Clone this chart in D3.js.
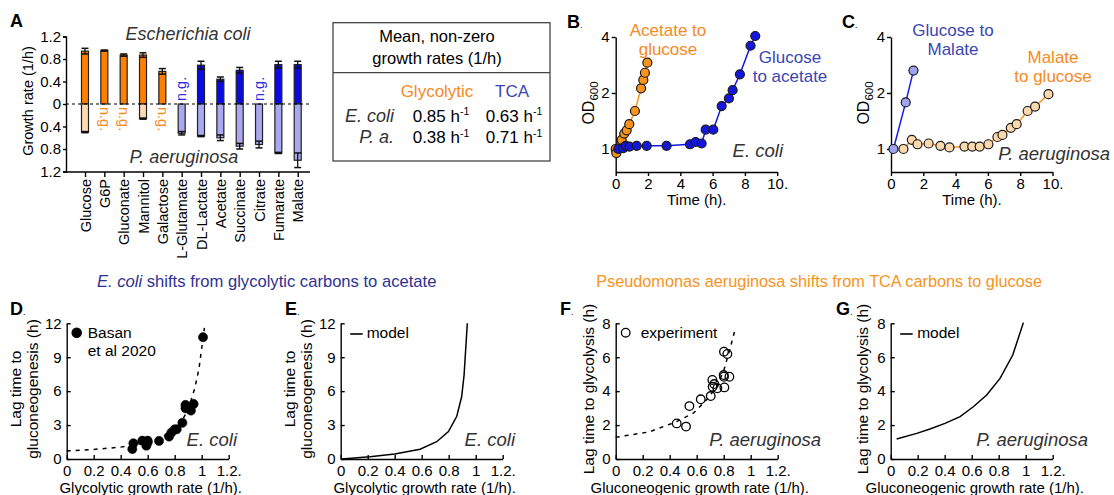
<!doctype html>
<html lang="en">
<head>
<meta charset="UTF-8">
<title>Growth rates and lag times</title>
<script src="https://cdn.jsdelivr.net/npm/d3@7"></script>
<style>
body { margin: 0; background: #fff; }
svg { font-family: "Liberation Sans", Arial, Helvetica, sans-serif; }
.axis path, .axis line { stroke: #000; stroke-width: 1.4; }
.axis text { font-size: 15px; fill: #000; font-family: "Liberation Sans", Arial, sans-serif; }
.species { font-style: italic; fill: #333; }
</style>
</head>
<body>
<script>
var width = 1114, height = 495;

// ---------- A: growth rates (E. coli up, P. aeruginosa down)
var carbons = ["Glucose", "G6P", "Gluconate", "Mannitol", "Galactose", "L-Glutamate",
               "DL-Lactate", "Acetate", "Succinate", "Citrate", "Fumarate", "Malate"];
var carbonType = ["gly", "gly", "gly", "gly", "gly", "tca", "tca", "tca", "tca", "tca", "tca", "tca"];
var ecoliRate = [0.94, 0.95, 0.87, 0.87, 0.58, null, 0.69, 0.44, 0.60, null, 0.70, 0.70];
var ecoliErr  = [0.05, 0.01, 0.02, 0.04, 0.05, null, 0.07, 0.04, 0.05, null, 0.06, 0.06];
var paRate    = [0.50, null, null, 0.26, null, 0.52, 0.57, 0.60, 0.75, 0.72, 0.87, 1.00];
var paErr     = [0.01, null, null, 0.01, null, 0.03, 0.01, 0.05, 0.05, 0.06, 0.01, 0.13];
var rateTicks = [-1.2, -0.8, -0.4, 0, 0.4, 0.8, 1.2];

// ---------- table of mean rates
var tableStrains = ["E. coli", "P. a."];
var meanGlycolytic = [0.85, 0.38];
var meanTCA = [0.63, 0.71];

// ---------- B: E. coli shifts (time h, OD600)
var ecAcGlcTime = [0.0, 0.04, 0.27, 0.37, 0.53, 0.68, 0.84, 1.19, 1.57, 1.71, 1.81, 1.96];
var ecAcGlcOD   = [1.0, 0.95, 1.03, 1.12, 1.21, 1.26, 1.36, 1.60, 2.12, 2.35, 2.57, 2.91];
var ecGlcAcTime = [0.16, 0.47, 0.62, 0.85, 1.30, 1.92, 3.15, 4.60, 4.95, 5.32, 5.57, 6.04, 6.56, 7.01, 7.24, 7.69, 8.35, 8.64];
var ecGlcAcOD   = [1.00, 1.01, 1.04, 1.03, 1.04, 1.04, 1.04, 1.06, 1.09, 1.07, 1.27, 1.27, 1.70, 1.87, 2.07, 2.52, 3.59, 4.05];

// ---------- C: P. aeruginosa shifts
var paGlcMalTime = [0.15, 0.91, 1.39];
var paGlcMalOD   = [1.0, 1.78, 2.64];
var paMalGlcTime = [0.77, 1.29, 1.64, 2.33, 3.06, 3.62, 4.55, 5.03, 5.49, 6.03, 6.59, 6.90, 7.42, 7.78, 8.46, 8.92, 9.75];
var paMalGlcOD   = [1.00, 1.12, 1.06, 1.07, 1.04, 1.02, 1.03, 1.03, 1.03, 1.06, 1.16, 1.19, 1.30, 1.36, 1.60, 1.69, 1.97];
var odTicks = [1, 2, 4];
var timeTicks = [0, 2, 4, 6, 8, 10];

// ---------- D: Basan et al 2020 data and fit
var basanRate = [1.01, 0.88, 0.94, 0.88, 0.92, 0.857, 0.815, 0.80, 0.775, 0.758, 0.684, 0.60, 0.59, 0.56, 0.494, 0.486, 0.60];
var basanLag  = [10.77, 4.78, 4.87, 4.48, 4.28, 3.2, 2.62, 2.62, 2.33, 1.98, 1.6, 1.47, 1.18, 1.62, 1.39, 0.88, 1.62];
var ecFitRate = [0, 0.2, 0.4, 0.5, 0.6, 0.7, 0.8, 0.85, 0.9, 0.95, 0.98, 1.0, 1.02];
var ecFitLag  = [0.7, 0.85, 1.05, 1.25, 1.5, 1.9, 2.6, 3.3, 4.4, 6.3, 8.0, 9.8, 11.6];

// ---------- E: E. coli model
var ecModelRate = [0.007, 0.217, 0.40, 0.588, 0.711, 0.798, 0.859, 0.896, 0.914, 0.938];
var ecModelLag  = [0, 0.2, 0.44, 0.86, 1.53, 2.42, 3.75, 5.5, 7.43, 12.0];

// ---------- F: P. aeruginosa experiment and fit
var paExpRate = [0.452, 0.521, 0.546, 0.63, 0.704, 0.716, 0.718, 0.73, 0.753, 0.80, 0.802, 0.805, 0.842, 0.802, 0.827];
var paExpLag  = [2.10, 1.91, 3.12, 3.52, 3.71, 4.66, 4.26, 4.42, 4.17, 4.95, 4.85, 4.22, 4.85, 6.33, 6.19];
var paFitRate = [0, 0.25, 0.45, 0.575, 0.675, 0.75, 0.8, 0.85, 0.885];
var paFitLag  = [1.28, 1.6, 2.2, 2.7, 3.5, 4.3, 5.2, 6.6, 7.65];

// ---------- G: P. aeruginosa model
var paModelRate = [0.044, 0.193, 0.291, 0.402, 0.514, 0.612, 0.711, 0.81, 0.904, 0.983];
var paModelLag  = [1.18, 1.51, 1.77, 2.10, 2.50, 3.08, 3.77, 4.75, 6.13, 8.04];

var rateAxisTicks = [0, 0.2, 0.4, 0.6, 0.8, 1, 1.2];
var ecLagTicks = [0, 3, 6, 9, 12];
var paLagTicks = [0, 2, 4, 6, 8];

// colours
var cOrange = "#ff7f00", cPeach = "#fddab2", cBlue = "#0a0ae6", cLav = "#a9a9f2";
var cOrangeText = "#f58a1f", cBlueText = "#3b45b3", cNavy = "#2e3192";

var svg = d3.select("body").append("svg").attr("width", width).attr("height", height);

function panelLabel(x, y, letter) {
    var t = svg.append("text").attr("x", x).attr("y", y).attr("font-size", 18).attr("font-weight", "bold").text(letter);
    t.append("tspan").attr("font-size", 9).attr("font-weight", "normal").text(".");
}

function yTitle(cx, cy, str, size) {
    svg.append("text").attr("transform", "translate(" + cx + "," + cy + ") rotate(-90)")
        .attr("text-anchor", "middle").attr("font-size", size || 15).text(str);
}

// ================= Panel A
var xA = d3.scalePoint().domain(carbons).range([85, 297.7]);
var yA = d3.scaleLinear().domain([-1.2, 1.2]).range([171.5, 36.5]);
var barW = 7;
var gA = svg.append("g");

function rateFill(i, up) {
    if (carbonType[i] === "gly") return up ? cOrange : cPeach;
    return up ? cBlue : cLav;
}

carbons.forEach(function (c, i) {
    var cx = xA(c);
    if (ecoliRate[i] !== null) {
        gA.append("rect").attr("x", cx - barW / 2).attr("y", yA(ecoliRate[i]))
            .attr("width", barW).attr("height", yA(0) - yA(ecoliRate[i]))
            .attr("fill", rateFill(i, true)).attr("stroke", "#222").attr("stroke-width", 1.2);
        var lo = yA(ecoliRate[i] - ecoliErr[i]), hi = yA(ecoliRate[i] + ecoliErr[i]);
        gA.append("line").attr("x1", cx).attr("x2", cx).attr("y1", lo).attr("y2", hi).attr("stroke", "#111").attr("stroke-width", 1.3);
        [lo, hi].forEach(function (yy) {
            gA.append("line").attr("x1", cx - 3.5).attr("x2", cx + 3.5).attr("y1", yy).attr("y2", yy).attr("stroke", "#111").attr("stroke-width", 1.5);
        });
    } else {
        gA.append("text").attr("transform", "translate(" + (cx + 4.8) + "," + (yA(0) - 3) + ") rotate(-90)")
            .attr("font-size", 14.5).attr("fill", "#2b2be0").text("n.g.");
    }
    if (paRate[i] !== null) {
        gA.append("rect").attr("x", cx - barW / 2).attr("y", yA(0))
            .attr("width", barW).attr("height", yA(-paRate[i]) - yA(0))
            .attr("fill", rateFill(i, false)).attr("stroke", "#222").attr("stroke-width", 1.2);
        var lo2 = yA(-paRate[i] + paErr[i]), hi2 = yA(-paRate[i] - paErr[i]);
        gA.append("line").attr("x1", cx).attr("x2", cx).attr("y1", lo2).attr("y2", hi2).attr("stroke", "#111").attr("stroke-width", 1.3);
        [lo2, hi2].forEach(function (yy) {
            gA.append("line").attr("x1", cx - 3.5).attr("x2", cx + 3.5).attr("y1", yy).attr("y2", yy).attr("stroke", "#111").attr("stroke-width", 1.5);
        });
    } else {
        gA.append("text").attr("transform", "translate(" + (cx - 4.8) + "," + (yA(0) + 3) + ") rotate(90)")
            .attr("font-size", 14.5).attr("fill", cOrangeText).text("n.g.");
    }
});

// zero line
gA.append("line").attr("x1", 66).attr("x2", 310).attr("y1", yA(0)).attr("y2", yA(0))
    .attr("stroke", "#000").attr("stroke-width", 1.2).attr("stroke-dasharray", "3,3");

gA.append("g").attr("class", "axis").attr("transform", "translate(66,0)")
    .call(d3.axisLeft(yA).tickValues(rateTicks).tickSize(3).tickPadding(2)
        .tickFormat(function (d) { return d === 0 ? "0" : d3.format(".1f")(Math.abs(d)); }));

var axA = gA.append("g").attr("class", "axis").attr("transform", "translate(0,172)")
    .call(d3.axisBottom(xA).tickSize(5).tickSizeOuter(0));
axA.select(".domain").remove();
axA.selectAll("text").attr("transform", "rotate(-90)").attr("text-anchor", "end")
    .attr("x", -7).attr("y", 0).attr("dy", "0.36em").style("font-size", "14.5px");
gA.append("line").attr("x1", 66).attr("x2", 310).attr("y1", 172).attr("y2", 172).attr("stroke", "#000").attr("stroke-width", 1.6);

yTitle(33, 101, "Growth rate (1/h)", 14.5);
svg.append("text").attr("class", "species").attr("x", 188).attr("y", 40).attr("text-anchor", "middle").attr("font-size", 18).text("Escherichia coli");
svg.append("text").attr("class", "species").attr("x", 184).attr("y", 163).attr("text-anchor", "middle").attr("font-size", 18).text("P. aeruginosa");
svg.append("text").attr("x", 10).attr("y", 27).attr("font-size", 18).attr("font-weight", "bold").text("A");

// ================= Table
var gT = svg.append("g");
gT.append("rect").attr("x", 333).attr("y", 22.7).attr("width", 217).attr("height", 138.3)
    .attr("fill", "none").attr("stroke", "#444").attr("stroke-width", 1.3);
gT.append("line").attr("x1", 333).attr("x2", 550).attr("y1", 72.7).attr("y2", 72.7).attr("stroke", "#444").attr("stroke-width", 1.3);
gT.append("text").attr("x", 437).attr("y", 42).attr("text-anchor", "middle").attr("font-size", 16.5).text("Mean, non-zero");
gT.append("text").attr("x", 437).attr("y", 63.5).attr("text-anchor", "middle").attr("font-size", 16.5).text("growth rates (1/h)");
gT.append("text").attr("x", 437).attr("y", 96.5).attr("text-anchor", "middle").attr("font-size", 17).attr("fill", cOrangeText).text("Glycolytic");
gT.append("text").attr("x", 512).attr("y", 96.5).attr("text-anchor", "middle").attr("font-size", 17).attr("fill", cBlueText).text("TCA");
tableStrains.forEach(function (s, i) {
    var yy = 121.5 + i * 21.7;
    gT.append("text").attr("class", "species").attr("x", 394).attr("y", yy).attr("text-anchor", "end").attr("font-size", 18).text(s);
    [[412.7, meanGlycolytic[i]], [485.7, meanTCA[i]]].forEach(function (p) {
        var t = gT.append("text").attr("x", p[0]).attr("y", yy).attr("font-size", 17).text(d3.format(".2f")(p[1]) + " h");
        t.append("tspan").attr("font-size", 10.5).attr("dy", -6.5).text("-1");
    });
});

// ================= Panels B and C
function growthPanel(o) {
    var x = d3.scaleLinear().domain([0, 10]).range([o.x0, o.x0 + 161.5]);
    var y = d3.scaleLog().base(2).domain([0.752, 4]).range([172, 37]);
    var g = svg.append("g");
    g.append("g").attr("class", "axis").attr("transform", "translate(0,172)")
        .call(d3.axisBottom(x).tickValues(timeTicks).tickSize(4).tickSizeOuter(0).tickPadding(2)
            .tickFormat(function (d) { return d === 10 ? "10." : d; }));
    g.append("g").attr("class", "axis").attr("transform", "translate(" + o.x0 + ",0)")
        .call(d3.axisLeft(y).tickValues(odTicks).tickSize(4).tickSizeOuter(0).tickPadding(2).tickFormat(d3.format("d")));
    var line = d3.line().x(function (d) { return x(d[0]); }).y(function (d) { return y(d[1]); });
    o.series.forEach(function (s) {
        var pts = d3.zip(s.t, s.od);
        g.append("path").datum(pts).attr("d", line).attr("fill", "none").attr("stroke", s.line).attr("stroke-width", 1.5);
        g.selectAll(null).data(pts).enter().append("circle")
            .attr("cx", function (d) { return x(d[0]); }).attr("cy", function (d) { return y(d[1]); })
            .attr("r", 4.5).attr("fill", s.fill).attr("stroke", "#1a1a1a").attr("stroke-width", 1.2);
    });
    var t = svg.append("text").attr("transform", "translate(" + (o.x0 - 22) + ",103) rotate(-90)")
        .attr("text-anchor", "middle").attr("font-size", 16).text("OD");
    t.append("tspan").attr("font-size", 11.5).attr("dy", 4).text("600");
    svg.append("text").attr("x", o.x0 + 81).attr("y", 205).attr("text-anchor", "middle").attr("font-size", 15).text("Time (h).");
    o.labels.forEach(function (l) {
        l.lines.forEach(function (str, k) {
            svg.append("text").attr("x", l.x).attr("y", l.y + k * 19).attr("text-anchor", "middle")
                .attr("font-size", 17).attr("fill", l.color).text(str);
        });
    });
    svg.append("text").attr("class", "species").attr("x", o.specX).attr("y", o.specY).attr("text-anchor", "end")
        .attr("font-size", 18.5).text(o.species);
    panelLabel(o.labX, 28, o.letter);
}

growthPanel({
    x0: 615.7, letter: "B", labX: 567, species: "E. coli", specX: 783, specY: 157,
    series: [
        { t: ecAcGlcTime, od: ecAcGlcOD, line: "#f7931e", fill: "#f7931e" },
        { t: ecGlcAcTime, od: ecGlcAcOD, line: "#1515e0", fill: "#1515e0" }
    ],
    labels: [
        { x: 668, y: 36, color: cOrangeText, lines: ["Acetate to", "glucose"] },
        { x: 790, y: 63, color: cBlueText, lines: ["Glucose", "to acetate"] }
    ]
});

growthPanel({
    x0: 891, letter: "C", labX: 842, species: "P. aeruginosa", specX: 1110, specY: 160,
    series: [
        { t: paGlcMalTime, od: paGlcMalOD, line: "#1a1ae6", fill: "#a0a3ee" },
        { t: paMalGlcTime, od: paMalGlcOD, line: "#f7931e", fill: "#fcd8ad" }
    ],
    labels: [
        { x: 953, y: 36, color: cBlueText, lines: ["Glucose to", "Malate"] },
        { x: 1053, y: 63, color: cOrangeText, lines: ["Malate", "to glucose"] }
    ]
});

// ================= section titles
var st1 = svg.append("text").attr("x", 97).attr("y", 287).attr("font-size", 16.6).attr("fill", cNavy);
st1.append("tspan").attr("font-style", "italic").text("E. coli");
st1.append("tspan").text(" shifts from glycolytic carbons to acetate");
svg.append("text").attr("x", 1042).attr("y", 287).attr("text-anchor", "end").attr("font-size", 16.3).attr("fill", "#f7941d")
    .text("Pseudomonas aeruginosa shifts from TCA carbons to glucose");

// ================= Panels D-G
function lagPanel(o) {
    var x = d3.scaleLinear().domain([0, 1.2]).range([o.x0, o.x0 + 162]);
    var y = d3.scaleLinear().domain([0, o.ymax]).range([459, 323.3]);
    var g = svg.append("g");
    g.append("g").attr("class", "axis").attr("transform", "translate(0,459)")
        .call(d3.axisBottom(x).tickValues(rateAxisTicks).tickSize(-4).tickSizeOuter(0).tickPadding(6)
            .tickFormat(function (d) { return d === 1.2 ? "1.2." : (d === 0 || d === 1 ? d : d3.format(".1f")(d)); }));
    g.append("g").attr("class", "axis").attr("transform", "translate(" + o.x0 + ",0)")
        .call(d3.axisLeft(y).tickValues(o.yTicks).tickSize(-4).tickSizeOuter(0).tickPadding(5));
    var line = d3.line().x(function (d) { return x(d[0]); }).y(function (d) { return y(d[1]); });
    if (o.curve) {
        g.append("path").datum(d3.zip(o.curve[0], o.curve[1])).attr("d", line)
            .attr("fill", "none").attr("stroke", "#000").attr("stroke-width", 1.5)
            .attr("stroke-dasharray", o.dashed ? "4,5" : null);
    }
    if (o.points) {
        g.selectAll(null).data(d3.zip(o.points[0], o.points[1])).enter().append("circle")
            .attr("cx", function (d) { return x(d[0]); }).attr("cy", function (d) { return y(d[1]); })
            .attr("r", o.open ? 4.3 : 4.6).attr("fill", o.open ? "none" : "#000")
            .attr("stroke", "#000").attr("stroke-width", o.open ? 1.3 : 0.5);
    }
    // legend
    if (o.legend === "dot") {
        g.append("circle").attr("cx", o.x0 + 10).attr("cy", 332.7).attr("r", o.open ? 4.3 : 4.6)
            .attr("fill", o.open ? "none" : "#000").attr("stroke", "#000").attr("stroke-width", 1.3);
    } else {
        g.append("line").attr("x1", o.x0 + 9.5).attr("x2", o.x0 + 22).attr("y1", 334).attr("y2", 334).attr("stroke", "#000").attr("stroke-width", 1.6);
    }
    o.legendText.forEach(function (str, k) {
        svg.append("text").attr("x", o.x0 + o.legendDx).attr("y", 338 + k * 17.7).attr("font-size", 15.5).text(str);
    });
    o.yLabel.forEach(function (str, k) {
        yTitle(o.yLabX + k * 16.5, 389, str, 15.5);
    });
    svg.append("text").attr("x", o.x0 + 84).attr("y", 492.5).attr("text-anchor", "middle").attr("font-size", 15).text(o.xLabel);
    svg.append("text").attr("class", "species").attr("x", o.specX).attr("y", 446).attr("text-anchor", "end")
        .attr("font-size", 18.5).text(o.species);
    panelLabel(o.labX, 315, o.letter);
}

lagPanel({
    x0: 66.7, ymax: 12, yTicks: ecLagTicks, letter: "D", labX: 10,
    curve: [ecFitRate, ecFitLag], dashed: true, points: [basanRate, basanLag], open: false,
    legend: "dot", legendText: ["Basan", "et al 2020"], legendDx: 21,
    yLabel: ["Lag time to", "gluconeogenesis (h)"], yLabX: 21,
    xLabel: "Glycolytic growth rate (1/h).", species: "E. coli", specX: 237
});

lagPanel({
    x0: 340.7, ymax: 12, yTicks: ecLagTicks, letter: "E", labX: 285,
    curve: [ecModelRate, ecModelLag], dashed: false,
    legend: "line", legendText: ["model"], legendDx: 26,
    yLabel: ["Lag time to", "gluconeogenesis (h)"], yLabX: 295,
    xLabel: "Glycolytic growth rate (1/h).", species: "E. coli", specX: 515
});

lagPanel({
    x0: 615.7, ymax: 8, yTicks: paLagTicks, letter: "F", labX: 560,
    curve: [paFitRate, paFitLag], dashed: true, points: [paExpRate, paExpLag], open: true,
    legend: "dot", legendText: ["experiment"], legendDx: 25,
    yLabel: ["Lag time to glycolysis (h)"], yLabX: 594,
    xLabel: "Gluconeogenic growth rate (1/h).", species: "P. aeruginosa", specX: 821
});

lagPanel({
    x0: 890.7, ymax: 8, yTicks: paLagTicks, letter: "G", labX: 836,
    curve: [paModelRate, paModelLag], dashed: false,
    legend: "line", legendText: ["model"], legendDx: 26.5,
    yLabel: ["Lag time to glycolysis (h)"], yLabX: 868,
    xLabel: "Gluconeogenic growth rate (1/h).", species: "P. aeruginosa", specX: 1088
});
</script>
</body>
</html>
